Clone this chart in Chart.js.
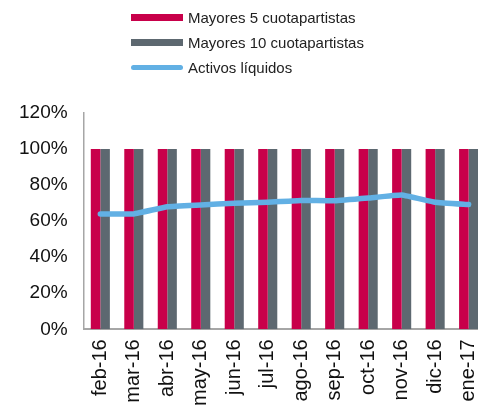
<!DOCTYPE html>
<html>
<head>
<meta charset="utf-8">
<script src="https://cdn.jsdelivr.net/npm/chart.js@4"></script>
<style>
  html, body { margin: 0; padding: 0; background: #fff; overflow: hidden; }
  #wrap { position: relative; width: 478px; height: 410px; overflow: hidden; }
  #chart { position: absolute; left: 0; top: 0; }
  #legend { position: absolute; left: 131px; top: 5px; font-family: "Liberation Sans", Arial, sans-serif; font-size: 15px; color: #222; }
  .item { display: flex; align-items: center; height: 25px; }
  .sw { width: 52px; height: 7px; margin-right: 5px; }
</style>
</head>
<body>
<div id="wrap">
  <canvas id="chart" width="503" height="416"></canvas>
  <div id="legend"></div>
</div>
<script>
const months = ["feb-16", "mar-16", "abr-16", "may-16", "jun-16", "jul-16", "ago-16", "sep-16", "oct-16", "nov-16", "dic-16", "ene-17"];
const top5 = [100, 100, 100, 100, 100, 100, 100, 100, 100, 100, 100, 100];
const top10 = [100, 100, 100, 100, 100, 100, 100, 100, 100, 100, 100, 100];
const liquidos = [64, 64, 68, 69, 70, 70.5, 71.5, 71.3, 72.8, 74.5, 70.5, 69.2];
const yTicks = [0, 20, 40, 60, 80, 100, 120];

const red = "#C8004A";
const gray = "#5D6870";
const blue = "#62B0E4";

function chart() {
  const ctx = document.getElementById("chart").getContext("2d");

  const data = {
    labels: months,
    datasets: [
      {
        label: "Mayores 5 cuotapartistas",
        data: top5,
        backgroundColor: red,
        barPercentage: 1,
        categoryPercentage: 0.57,
        order: 1,
      },
      {
        label: "Mayores 10 cuotapartistas",
        data: top10,
        backgroundColor: gray,
        barPercentage: 1,
        categoryPercentage: 0.57,
        order: 1,
      },
      {
        type: "line",
        label: "Activos líquidos",
        data: liquidos,
        borderColor: blue,
        backgroundColor: blue,
        borderWidth: 5.5,
        pointRadius: 0,
        tension: 0.1,
        borderCapStyle: "round",
        borderJoinStyle: "round",
        order: 0,
      },
    ],
  };

  const font = { family: "'Liberation Sans', Arial, sans-serif" };

  const options = {
    responsive: false,
    animation: false,
    layout: { padding: { top: 113, left: 3, right: 9, bottom: 0 } },
    plugins: {
      legend: { display: false }, // html legend above
      tooltip: { enabled: false },
    },
    scales: {
      x: {
        grid: { display: false, drawTicks: false },
        border: { color: "#a6a6a6", width: 2 },
        ticks: {
          color: "#111",
          font: { ...font, size: 20 },
          minRotation: 90,
          maxRotation: 90,
          padding: 10,
          autoSkip: false,
        },
      },
      y: {
        min: 0,
        max: 120,
        grid: { display: false, drawTicks: false },
        border: { color: "#a6a6a6", width: 1.5 },
        afterBuildTicks: (axis) => {
          axis.ticks = yTicks.map((v) => ({ value: v }));
        },
        ticks: {
          color: "#111",
          font: { ...font, size: 19 },
          padding: 16,
          callback: (v) => v + "%",
        },
      },
    },
  };

  const c = new Chart(ctx, { type: "bar", data: data, options: options });

  // legend
  const legend = document.getElementById("legend");
  c.data.datasets.forEach((ds) => {
    const item = document.createElement("div");
    item.className = "item";
    const sw = document.createElement("span");
    sw.className = "sw";
    sw.style.background = ds.backgroundColor;
    if (ds.type === "line") {
      sw.style.height = "5px";
      sw.style.borderRadius = "3px";
    }
    item.appendChild(sw);
    item.appendChild(document.createTextNode(ds.label));
    legend.appendChild(item);
  });
}

chart();
</script>
</body>
</html>
